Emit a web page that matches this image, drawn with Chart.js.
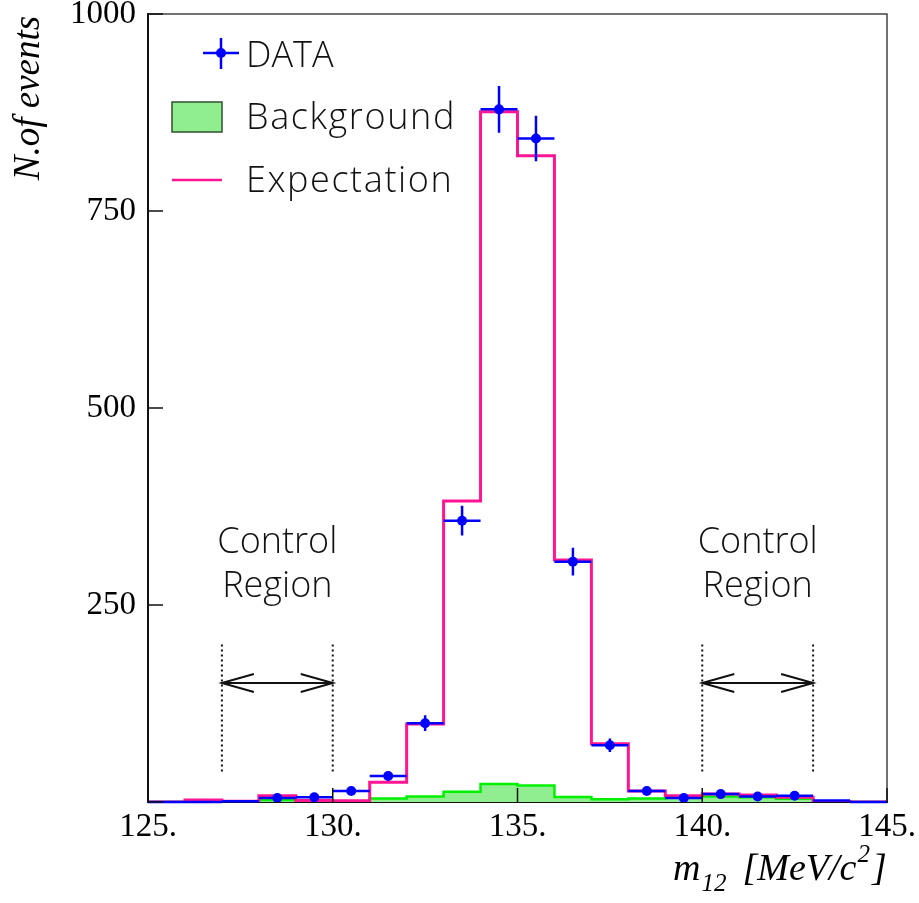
<!DOCTYPE html>
<html>
<head>
<meta charset="utf-8">
<script src="https://cdn.jsdelivr.net/npm/chart.js@4.4.1/dist/chart.umd.min.js"></script>
<style>
  html, body { margin: 0; padding: 0; background: #fff; }
  #wrap { width: 919px; height: 903px; }
</style>
</head>
<body>
<div id="wrap"><canvas id="histo" width="919" height="903"></canvas></div>
<script>
// bin edges of m12 (1 MeV bins)
const binEdges = [125, 126, 127, 128, 129, 130, 131, 132, 133, 134, 135,
                  136, 137, 138, 139, 140, 141, 142, 143, 144, 145];
// contents per bin
const dataCounts  = [0, 0, 1, 5, 6, 14, 33, 100, 357, 879, 842, 305, 72, 14, 5, 10, 7, 8, 2, 0];
const dataErrors  = [0, 0, 1, 2.2, 2.4, 3.7, 5.7, 10, 18.9, 29.6, 29, 17.5, 8.5, 3.7, 2.2, 3.2, 2.6, 2.8, 1.4, 0];
const expectation = [0, 2.5, 1, 8, 2, 1.5, 25, 99, 382, 876, 820, 307, 74, 14, 8, 10, 9, 6, 0.5, 0];
const background  = [0, 0, 0, 2.5, 2, 0.5, 4.5, 7, 13, 23, 21, 6.5, 3.5, 4.3, 6, 7, 6, 4, 0, 0];

const xTicks = [125, 130, 135, 140, 145];
const yTicks = [0, 250, 500, 750, 1000];
const controlRegions = [[127, 130], [140, 143]];

const legendNames = ['DATA', 'Background', 'Expectation'];

const BLUE = '#0000ff';
const PINK = '#ff1493';
const GREEN_LINE = '#00f000';
const GREEN_FILL = '#90ee90';
const SERIF = "'Liberation Serif', 'Times New Roman', serif";
const GOTHIC = "'Open Sans', 'DejaVu Sans', sans-serif";
const GOTHIC_FONT = '300 36px ' + GOTHIC;

// histogram outline: one point per lower edge + closing point at the last upper edge
function stepPoints(values) {
    const pts = values.map((v, i) => ({ x: binEdges[i], y: v }));
    pts.push({ x: binEdges[values.length], y: values[values.length - 1] });
    return pts;
}

const dataPoints = dataCounts.map((v, i) => ({ x: (binEdges[i] + binEdges[i + 1]) / 2, y: v }));

// error bars (x = bin width, y = statistical error) under the data markers
const errorBars = {
    id: 'errorBars',
    afterDatasetsDraw(chart) {
        const ctx = chart.ctx;
        const xs = chart.scales.x, ys = chart.scales.y;
        ctx.save();
        ctx.strokeStyle = BLUE;
        ctx.lineWidth = 2.5;
        dataCounts.forEach((v, i) => {
            const y = ys.getPixelForValue(v);
            const xc = xs.getPixelForValue((binEdges[i] + binEdges[i + 1]) / 2);
            ctx.beginPath();
            ctx.moveTo(xs.getPixelForValue(binEdges[i]), y);
            ctx.lineTo(xs.getPixelForValue(binEdges[i + 1]), y);
            if (dataErrors[i] > 0) {
                ctx.moveTo(xc, ys.getPixelForValue(v - dataErrors[i]));
                ctx.lineTo(xc, ys.getPixelForValue(v + dataErrors[i]));
            }
            ctx.stroke();
        });
        ctx.restore();
    }
};

// frame, inward ticks, legend, control region marks and axis titles
const decorations = {
    id: 'decorations',
    afterDraw(chart) {
        const ctx = chart.ctx;
        const a = chart.chartArea;
        const xs = chart.scales.x, ys = chart.scales.y;
        ctx.save();

        // frame
        ctx.strokeStyle = '#444';
        ctx.lineWidth = 1.5;
        ctx.beginPath();
        ctx.moveTo(a.left, a.top);
        ctx.lineTo(a.right, a.top);
        ctx.lineTo(a.right, a.bottom);
        ctx.stroke();

        // ticks pointing into the plot
        ctx.strokeStyle = '#111';
        ctx.lineWidth = 1.5;
        ctx.beginPath();
        xTicks.forEach(t => {
            const x = xs.getPixelForValue(t);
            ctx.moveTo(x, a.bottom);
            ctx.lineTo(x, a.bottom - 14);
        });
        yTicks.forEach(t => {
            const y = ys.getPixelForValue(t);
            ctx.moveTo(a.left, y);
            ctx.lineTo(a.left + 15, y);
        });
        ctx.stroke();

        // legend
        ctx.lineWidth = 2.5;
        ctx.strokeStyle = BLUE;
        ctx.beginPath();
        ctx.moveTo(203, 53); ctx.lineTo(239, 53);
        ctx.moveTo(221, 38); ctx.lineTo(221, 69);
        ctx.stroke();
        ctx.fillStyle = BLUE;
        ctx.beginPath();
        ctx.arc(221, 53, 5, 0, Math.PI * 2);
        ctx.fill();

        ctx.fillStyle = GREEN_FILL;
        ctx.fillRect(172, 102, 50, 30);
        ctx.strokeStyle = '#2f4f2f';
        ctx.lineWidth = 1.5;
        ctx.strokeRect(172, 102, 50, 30);

        ctx.strokeStyle = PINK;
        ctx.lineWidth = 2.5;
        ctx.beginPath();
        ctx.moveTo(172, 180); ctx.lineTo(222, 180);
        ctx.stroke();

        ctx.fillStyle = '#111';
        ctx.font = GOTHIC_FONT;
        ctx.textAlign = 'left';
        ctx.textBaseline = 'alphabetic';
        ctx.fillText(legendNames[0], 246, 67);
        ctx.letterSpacing = '1.6px';
        ctx.fillText(legendNames[1], 246, 129);
        ctx.fillText(legendNames[2], 246, 192);
        ctx.letterSpacing = '0px';

        // control regions
        controlRegions.forEach(([lo, hi]) => {
            const x1 = xs.getPixelForValue(lo), x2 = xs.getPixelForValue(hi);
            const xm = (x1 + x2) / 2;
            const yTop = ys.getPixelForValue(200), yBot = ys.getPixelForValue(38);
            const yArr = ys.getPixelForValue(151);

            ctx.fillStyle = '#111';
            ctx.font = GOTHIC_FONT;
            ctx.textAlign = 'center';
            ctx.fillText('Control', xm, 553);
            ctx.fillText('Region', xm, 597);

            ctx.strokeStyle = '#111';
            ctx.lineWidth = 2;
            ctx.setLineDash([2, 3]);
            ctx.beginPath();
            ctx.moveTo(x1, yTop); ctx.lineTo(x1, yBot);
            ctx.moveTo(x2, yTop); ctx.lineTo(x2, yBot);
            ctx.stroke();
            ctx.setLineDash([]);

            ctx.lineWidth = 2;
            ctx.beginPath();
            ctx.moveTo(x1, yArr); ctx.lineTo(x2, yArr);
            ctx.moveTo(x1 + 32, yArr - 9); ctx.lineTo(x1, yArr); ctx.lineTo(x1 + 32, yArr + 9);
            ctx.moveTo(x2 - 32, yArr - 9); ctx.lineTo(x2, yArr); ctx.lineTo(x2 - 32, yArr + 9);
            ctx.stroke();
        });

        // y title
        ctx.fillStyle = '#000';
        ctx.font = 'italic 37px ' + SERIF;
        ctx.textAlign = 'center';
        ctx.save();
        ctx.translate(39, 98);
        ctx.rotate(-Math.PI / 2);
        ctx.fillText('N.of events', 0, 0);
        ctx.restore();

        // x title  m_12 [MeV/c^2]
        ctx.textAlign = 'left';
        let x = 673;
        const base = 880;
        ctx.font = 'italic 38px ' + SERIF;
        ctx.fillText('m', x, base);
        x += ctx.measureText('m').width + 1;
        ctx.font = 'italic 25px ' + SERIF;
        ctx.fillText('12', x, base + 11);
        x += ctx.measureText('12').width + 16;
        ctx.font = 'italic 38px ' + SERIF;
        ctx.fillText('[MeV/c', x, base);
        x += ctx.measureText('[MeV/c').width + 1;
        ctx.font = 'italic 25px ' + SERIF;
        ctx.fillText('2', x, base - 18);
        x += ctx.measureText('2').width + 2;
        ctx.font = 'italic 38px ' + SERIF;
        ctx.fillText(']', x, base);

        ctx.restore();
    }
};

new Chart(document.getElementById('histo'), {
    type: 'line',
    data: {
        datasets: [
            {
                label: legendNames[0],
                data: dataPoints,
                showLine: false,
                pointRadius: c => (dataCounts[c.dataIndex] >= 3 ? 5 : 0),
                pointBackgroundColor: BLUE,
                pointBorderWidth: 0
            },
            {
                label: legendNames[2],
                data: stepPoints(expectation),
                stepped: 'before',
                borderColor: PINK,
                borderWidth: 3,
                pointRadius: 0,
                fill: false
            },
            {
                label: legendNames[1],
                data: stepPoints(background),
                stepped: 'before',
                borderColor: GREEN_LINE,
                backgroundColor: GREEN_FILL,
                borderWidth: 2.5,
                pointRadius: 0,
                fill: 'origin'
            }
        ]
    },
    options: {
        responsive: false,
        animation: false,
        devicePixelRatio: 1,
        layout: { padding: { top: 14, right: 32, left: 0, bottom: 0 } },
        plugins: { legend: { display: false }, tooltip: { enabled: false } },
        scales: {
            x: {
                type: 'linear',
                min: 125,
                max: 145,
                afterFit: s => {
                    s.height = 101;
                    s.paddingLeft = 0;
                    s.paddingRight = 0;
                },
                afterBuildTicks: s => { s.ticks = xTicks.map(v => ({ value: v })); },
                grid: { display: false, drawTicks: false },
                border: { display: true, color: '#111', width: 2 },
                ticks: {
                    autoSkip: false,
                    maxRotation: 0,
                    padding: 9,
                    color: '#000',
                    font: { family: SERIF, size: 33, lineHeight: 1 },
                    callback: v => v + '.'
                }
            },
            y: {
                type: 'linear',
                min: 0,
                max: 1000,
                afterFit: s => {
                    s.width = 148;
                    s.paddingTop = 0;
                    s.paddingBottom = 0;
                },
                afterBuildTicks: s => { s.ticks = yTicks.map(v => ({ value: v })); },
                grid: { display: false, drawTicks: false },
                border: { display: true, color: '#111', width: 2 },
                ticks: {
                    padding: 12,
                    color: '#000',
                    font: { family: SERIF, size: 33, lineHeight: 1 },
                    callback: v => (v === 0 ? '' : v)
                }
            }
        }
    },
    plugins: [errorBars, decorations]
});
</script>
</body>
</html>
